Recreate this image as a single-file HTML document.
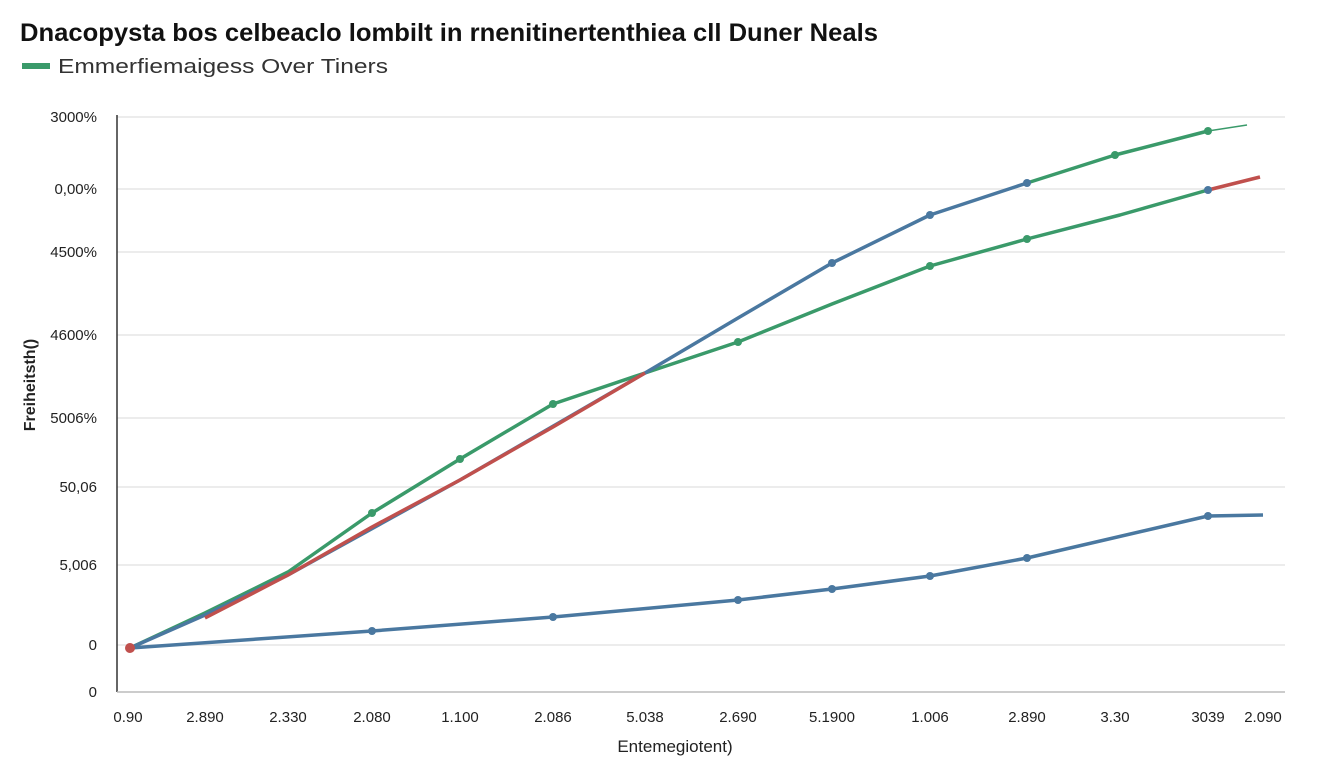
<!DOCTYPE html>
<html><head><meta charset="utf-8"><style>
body{margin:0;background:#fff;width:1344px;height:768px;overflow:hidden;font-family:"Liberation Sans",sans-serif}
</style></head><body>
<svg width="1344" height="768" xmlns="http://www.w3.org/2000/svg" font-family="Liberation Sans, sans-serif">
<text x="20" y="41" font-size="25" font-weight="bold" fill="#111" textLength="858" lengthAdjust="spacingAndGlyphs">Dnacopysta bos celbeaclo lombilt in rnenitinertenthiea cll Duner Neals</text>
<rect x="22" y="63" width="28" height="6" fill="#3a9a6a"/>
<text x="58" y="73" font-size="20" fill="#333" textLength="330" lengthAdjust="spacingAndGlyphs">Emmerfiemaigess Over Tiners</text>
<g stroke="#e6e6e6" stroke-width="1.5">
<line x1="117" y1="117" x2="1285" y2="117"/><line x1="117" y1="189" x2="1285" y2="189"/>
<line x1="117" y1="252" x2="1285" y2="252"/><line x1="117" y1="335" x2="1285" y2="335"/>
<line x1="117" y1="418" x2="1285" y2="418"/><line x1="117" y1="487" x2="1285" y2="487"/>
<line x1="117" y1="565" x2="1285" y2="565"/><line x1="117" y1="645" x2="1285" y2="645"/>
</g>
<line x1="117" y1="115" x2="117" y2="692" stroke="#333" stroke-width="1.5"/>
<line x1="117" y1="692" x2="1285" y2="692" stroke="#bbb" stroke-width="1.5"/>
<g font-size="15" fill="#222" text-anchor="end">
<text x="97" y="122">3000%</text><text x="97" y="194">0,00%</text><text x="97" y="257">4500%</text>
<text x="97" y="340">4600%</text><text x="97" y="423">5006%</text><text x="97" y="492">50,06</text>
<text x="97" y="570">5,006</text><text x="97" y="650">0</text><text x="97" y="697">0</text>
</g>
<g font-size="15" fill="#222" text-anchor="middle">
<text x="128" y="722">0.90</text><text x="205" y="722">2.890</text><text x="288" y="722">2.330</text>
<text x="372" y="722">2.080</text><text x="460" y="722">1.100</text><text x="553" y="722">2.086</text>
<text x="645" y="722">5.038</text><text x="738" y="722">2.690</text><text x="832" y="722">5.1900</text>
<text x="930" y="722">1.006</text><text x="1027" y="722">2.890</text><text x="1115" y="722">3.30</text>
<text x="1208" y="722">3039</text><text x="1263" y="722">2.090</text>
</g>
<text x="675" y="752" font-size="17" fill="#222" text-anchor="middle">Entemegiotent)</text>
<text transform="translate(35,385) rotate(-90)" font-size="16" font-weight="bold" fill="#222" text-anchor="middle">Freiheitsth()</text>
<g fill="none" stroke-width="3.5" stroke-linejoin="round">
<polyline stroke="#4a78a0" points="130,648 372,631 553,617 738,600 832,589 930,576 1027,558 1208,516 1263,515"/>
<polyline stroke="#3a9a6a" points="130,648 205,613 288,572 372,513 460,459 553,404 645,373 738,342 832,304 930,266 1027,239 1120,215 1208,190"/>
<polyline stroke="#c0504d" points="1208,190 1260,177"/>
<polyline stroke="#4a78a0" points="130,648 205,615 288,575 460,480 645,373 738,318 832,263 930,215 1027,183"/>
<polyline stroke="#c0504d" points="205,618 288,575 372,527 460,480 553,427 645,373"/>
<polyline stroke="#3a9a6a" points="1027,183 1115,155 1208,131"/>
<polyline stroke="#3a9a6a" stroke-width="1.5" points="1208,131 1247,125"/>
</g>
<g fill="#4a78a0">
<circle cx="372" cy="631" r="4"/><circle cx="553" cy="617" r="4"/><circle cx="738" cy="600" r="4"/><circle cx="832" cy="589" r="4"/><circle cx="930" cy="576" r="4"/><circle cx="1027" cy="558" r="4"/><circle cx="1208" cy="516" r="4"/>
<circle cx="832" cy="263" r="4"/><circle cx="930" cy="215" r="4"/><circle cx="1027" cy="183" r="4"/><circle cx="1208" cy="190" r="4"/>
</g>
<g fill="#3a9a6a">
<circle cx="372" cy="513" r="4"/><circle cx="460" cy="459" r="4"/><circle cx="553" cy="404" r="4"/><circle cx="738" cy="342" r="4"/><circle cx="930" cy="266" r="4"/><circle cx="1027" cy="239" r="4"/><circle cx="1115" cy="155" r="4"/><circle cx="1208" cy="131" r="4"/>
</g>
<circle cx="130" cy="648" r="5" fill="#c0504d"/>
</svg>
</body></html>
